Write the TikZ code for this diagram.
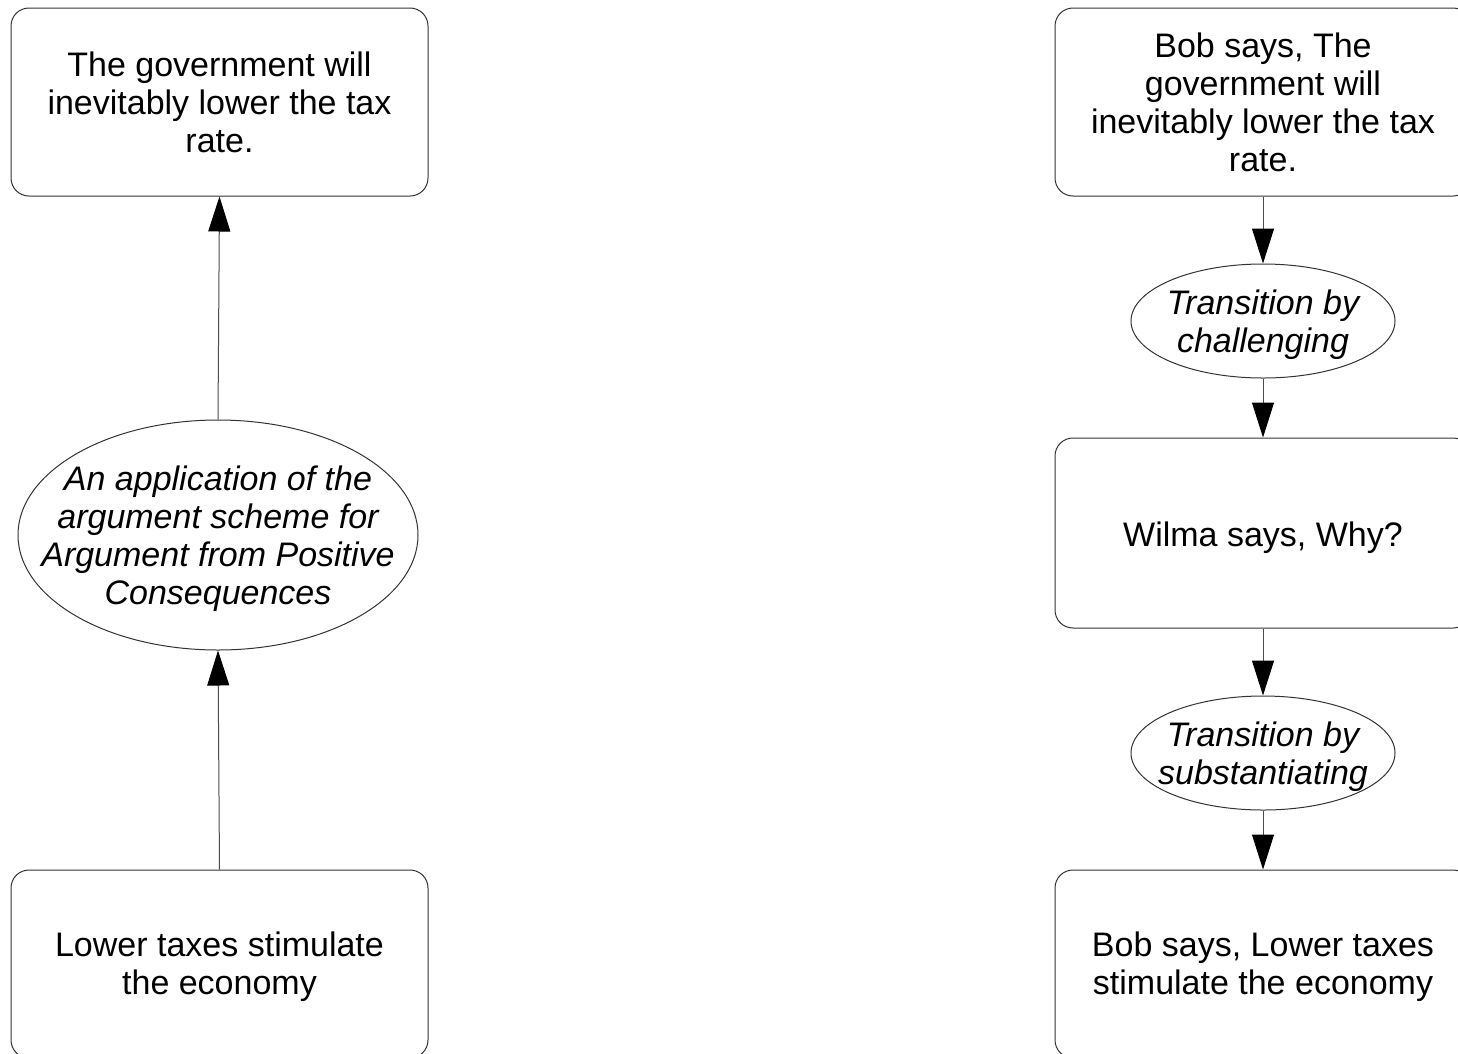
\documentclass[tikz,border=0pt]{standalone}
\usepackage{fontspec}
\setmainfont{Liberation Sans}
\usetikzlibrary{shapes.geometric,arrows.meta}
\begin{document}
\begin{tikzpicture}[x=1pt,y=-1pt,
  every node/.style={font=\fontsize{34}{38}\selectfont, align=center, inner sep=0pt},
  stmt/.style={draw=black!80, line width=1pt, rounded corners=18pt,
    minimum width=417pt, minimum height=188pt},
  scheme/.style={draw=black!80, line width=1pt, ellipse},
  schemetext/.style={font=\fontsize{34}{38}\selectfont\itshape, yshift=-4pt},
  link/.style={draw=black!70, line width=1pt,
    -{Triangle[length=35pt,width=22pt,black]}}]
\useasboundingbox (0,0) rectangle (1458,1053);
\clip (0,0) rectangle (1458,1053);
\fill[white] (0,0) rectangle (1458,1053);

% argument diagram
\node[stmt] (concl) at (219.5,102) {The government will\\inevitably lower the tax\\rate.};
\node[scheme, minimum width=400pt, minimum height=230pt,
  label={[schemetext]center:An application of the\\argument scheme for\\Argument from Positive\\Consequences}] (arg) at (218,535) {};
\node[stmt, label={[yshift=-3pt]center:Lower taxes stimulate\\the economy}] (prem) at (219.5,964) {};
\draw[link] (prem.north) -- (arg.south);
\draw[link] (arg.north) -- (concl.south);

% dialogue diagram
\node[stmt, minimum width=416pt] (bob1) at (1263,102) {Bob says, The\\government will\\inevitably lower the tax\\rate.};
\node[scheme, minimum width=264pt, minimum height=114pt,
  label={[schemetext]center:Transition by\\challenging}] (chal) at (1263,321) {};
\node[stmt, minimum width=416pt, minimum height=190pt,
  label={[yshift=-5pt]center:Wilma says, Why?}] (wilma) at (1263,533) {};
\node[scheme, minimum width=264pt, minimum height=114pt,
  label={[schemetext]center:Transition by\\substantiating}] (subst) at (1263,753) {};
\node[stmt, minimum width=416pt,
  label={[yshift=-3pt]center:Bob says, Lower taxes\\stimulate the economy}] (bob2) at (1263,964) {};
\draw[link] (bob1.south) -- (chal.north);
\draw[link] (chal.south) -- (wilma.north);
\draw[link] (wilma.south) -- (subst.north);
\draw[link] (subst.south) -- (bob2.north);
\end{tikzpicture}
\end{document}
